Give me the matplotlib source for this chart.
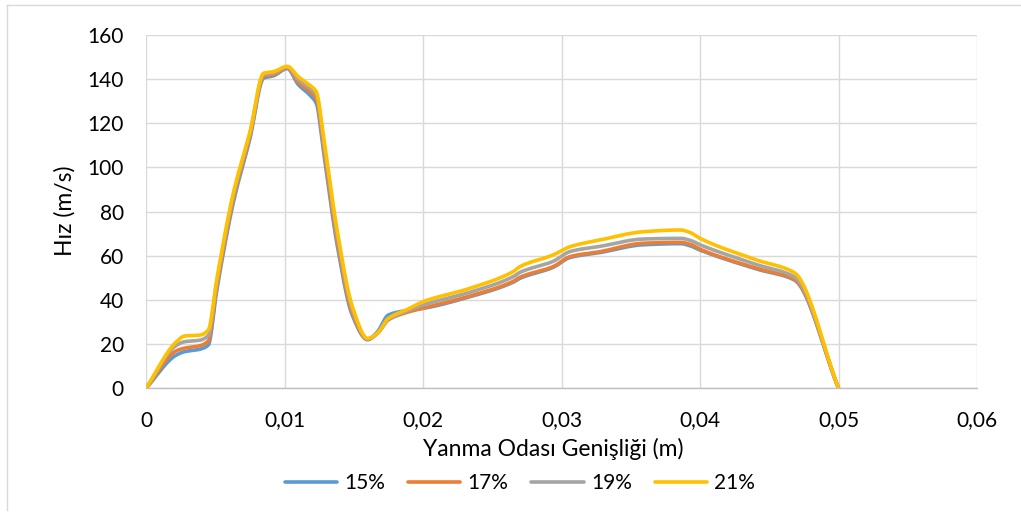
import numpy as np
import matplotlib
matplotlib.use("Agg")
import matplotlib.pyplot as plt
from matplotlib.lines import Line2D

# ---- data ----
x_m = [0, 0.0022, 0.0028, 0.0039, 0.0045, 0.0051, 0.0063, 0.0075, 0.0085, 0.0092,
       0.0102, 0.0110, 0.0118, 0.0123, 0.0128, 0.0138, 0.0149, 0.0160, 0.0167,
       0.0175, 0.0188, 0.0200, 0.0234, 0.0265, 0.0270, 0.0294, 0.0306, 0.0328,
       0.0359, 0.0386, 0.0393, 0.0400, 0.0441, 0.0468, 0.0500]
v15 = [0, 15.1, 16.6, 17.7, 19.6, 44.0, 84.0, 113.0, 140.5, 141.5,
       144.8, 137.5, 133.0, 129.0, 108.0, 65.0, 33.0, 22.0, 25.5,
       33.2, 35.2, 36.2, 41.5, 48.0, 49.8, 54.8, 59.2, 61.5,
       65.0, 65.5, 64.5, 62.6, 54.0, 49.1, 0]
v17 = [0, 17.0, 18.2, 19.3, 21.5, 45.5, 85.5, 114.0, 141.3, 142.0,
       145.1, 138.5, 134.5, 131.0, 110.0, 67.0, 34.0, 22.2, 24.8,
       31.0, 34.3, 36.3, 41.8, 48.4, 50.3, 55.1, 59.6, 61.9,
       65.7, 66.1, 65.2, 63.0, 54.3, 49.4, 0]
v19 = [0, 19.5, 21.1, 21.8, 24.0, 47.5, 87.0, 115.0, 142.0, 142.7,
       145.4, 139.8, 136.0, 132.8, 112.5, 69.5, 35.5, 22.4, 24.8,
       31.2, 34.8, 37.7, 43.5, 50.5, 52.5, 57.5, 61.9, 64.3,
       67.6, 67.9, 67.0, 65.0, 56.0, 50.5, 0]
v21 = [0, 21.1, 23.7, 24.1, 26.4, 49.0, 88.3, 116.0, 142.7, 143.4,
       145.8, 141.1, 137.4, 134.3, 114.7, 71.7, 37.0, 22.6, 24.9,
       31.7, 35.5, 39.2, 45.3, 52.8, 55.1, 60.4, 64.1, 67.2,
       70.9, 71.7, 70.5, 67.9, 58.1, 52.4, 0]
series_labels = ["15%", "17%", "19%", "21%"]
colors = ["#5B9BD5", "#ED7D31", "#A5A5A5", "#FFC000"]
x_ticks = [0, 0.01, 0.02, 0.03, 0.04, 0.05, 0.06]
x_tick_labels = ["0", "0,01", "0,02", "0,03", "0,04", "0,05", "0,06"]
y_ticks = [0, 20, 40, 60, 80, 100, 120, 140, 160]


def smooth(xs, ys, n=24):
    """Smoothed line drawn through the data points (monotone cubic Hermite)."""
    x = np.asarray(xs, float)
    y = np.asarray(ys, float)
    h = np.diff(x)
    d = np.diff(y) / h
    m = np.zeros_like(y)
    for k in range(1, len(x) - 1):
        if d[k - 1] * d[k] > 0:
            w1 = 2 * h[k] + h[k - 1]
            w2 = h[k] + 2 * h[k - 1]
            m[k] = (w1 + w2) / (w1 / d[k - 1] + w2 / d[k])
    m[0] = d[0]
    m[-1] = d[-1]
    ox, oy = [x[0]], [y[0]]
    t = np.linspace(0, 1, n)[1:]
    for k in range(len(x) - 1):
        h00 = 2 * t**3 - 3 * t**2 + 1
        h10 = t**3 - 2 * t**2 + t
        h01 = -2 * t**3 + 3 * t**2
        h11 = t**3 - t**2
        ox.extend(x[k] + t * h[k])
        oy.extend(h00 * y[k] + h10 * h[k] * m[k] + h01 * y[k + 1] + h11 * h[k] * m[k + 1])
    return np.array(ox), np.array(oy)


plt.rcParams['font.family'] = ['Lato', 'DejaVu Sans']

fig = plt.figure(figsize=(10.21, 5.15), dpi=100)
# outer chart border (only left and top visible in the crop)
fig.add_artist(Line2D([7 / 1021, 7 / 1021], [1 - 510 / 515, 1 - 5 / 515],
                      transform=fig.transFigure, color="#d9d9d9", linewidth=1))
fig.add_artist(Line2D([7 / 1021, 1], [1 - 5 / 515, 1 - 5 / 515],
                      transform=fig.transFigure, color="#d9d9d9", linewidth=1))

ax = fig.add_axes([146 / 1021, 1 - 388.3 / 515, (977 - 146) / 1021, (388.3 - 35) / 515])

handles = []
for vals, lab, c in zip([v15, v17, v19, v21], series_labels, colors):
    sx, sy = smooth(x_m, vals)
    ln, = ax.plot(sx, sy, color=c, linewidth=2.6, label=lab, solid_capstyle="round",
                  solid_joinstyle="round")
    handles.append(ln)

ax.set_xlim(0, 0.06)
ax.set_ylim(0, 160)
ax.set_xticks(x_ticks)
ax.set_xticklabels(x_tick_labels)
ax.set_yticks(y_ticks)
ax.grid(True, color="#d9d9d9", linewidth=1)
ax.set_axisbelow(True)
for s in ["top", "right", "left"]:
    ax.spines[s].set_visible(False)
ax.spines["bottom"].set_color("#bfbfbf")
ax.spines["bottom"].set_linewidth(1)
ax.tick_params(axis="both", length=0, labelsize=15, colors="#000000")
ax.tick_params(axis="x", pad=16)
ax.tick_params(axis="y", pad=16)

fig.text(553 / 1021, 1 - 456 / 515, "Yanma Odası Genişliği (m)", fontsize=16.5,
         ha="center", va="baseline")
fig.text(65 / 1021, 1 - 211 / 515, "Hız (m/s)", fontsize=16.5, rotation=90,
         ha="center", va="center")

leg = fig.legend(handles=handles, labels=series_labels, loc="center",
                 bbox_to_anchor=(520 / 1021, 1 - 483 / 515), ncol=4,
                 frameon=False, fontsize=15, handlelength=2.5, columnspacing=1.1,
                 handletextpad=0.35, borderaxespad=0, borderpad=0)
for h in leg.get_lines():
    h.set_solid_capstyle("round")
    h.set_linewidth(2.6)

fig.savefig("out.png", dpi=100)
